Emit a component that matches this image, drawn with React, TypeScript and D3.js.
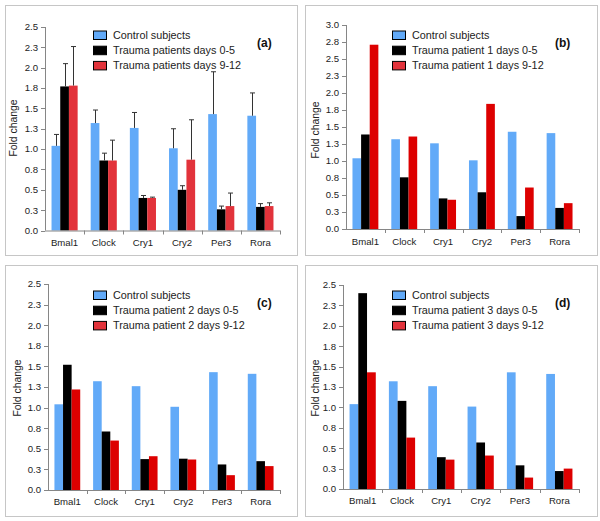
import React from "react";
import * as d3 from "d3";

const genes = ["Bmal1", "Clock", "Cry1", "Cry2", "Per3", "Rora"];

const control = [1.04, 1.32, 1.26, 1.01, 1.43, 1.41];
const controlErr = [1.18, 1.48, 1.45, 1.25, 1.95, 1.69];

const aEarly = [1.77, 0.86, 0.4, 0.5, 0.26, 0.29];
const aEarlyErr = [2.05, 0.95, 0.43, 0.55, 0.3, 0.33];
const aLate = [1.78, 0.86, 0.4, 0.87, 0.3, 0.3];
const aLateErr = [2.26, 1.11, 0.41, 1.36, 0.46, 0.34];

const p1Early = [1.39, 0.76, 0.45, 0.54, 0.19, 0.31];
const p1Late = [2.71, 1.36, 0.43, 1.84, 0.61, 0.38];

const p2Early = [1.52, 0.71, 0.375, 0.38, 0.31, 0.35];
const p2Late = [1.22, 0.6, 0.41, 0.37, 0.18, 0.29];

const p3Early = [2.4, 1.08, 0.39, 0.57, 0.29, 0.22];
const p3Late = [1.43, 0.63, 0.36, 0.41, 0.14, 0.25];

const ticks25 = ["0.0", "0.3", "0.5", "0.8", "1.0", "1.3", "1.5", "1.8", "2.0", "2.3", "2.5"];
const ticks30 = ["0.0", "0.3", "0.5", "0.8", "1.0", "1.3", "1.5", "1.8", "2.0", "2.3", "2.5", "2.8", "3.0"];

const legendA = ["Control subjects", "Trauma patients days 0-5", "Trauma patients days 9-12"];
const legendB = ["Control subjects", "Trauma patient 1 days 0-5", "Trauma patient 1 days 9-12"];
const legendC = ["Control subjects", "Trauma patient 2 days 0-5", "Trauma patient 2 days 9-12"];
const legendD = ["Control subjects", "Trauma patient 3 days 0-5", "Trauma patient 3 days 9-12"];

const BLUE = "#62aaf8";
const BLACK = "#000000";
const RED_A = "#e2333b";
const RED = "#dd0000";
const FONT = "'Liberation Sans', Arial, sans-serif";

type PanelProps = {
  box: [number, number, number, number];
  x0: number;
  x1: number;
  yTop: number;
  y0: number;
  yMax: number;
  tickLabels: string[];
  series: number[][];
  errors?: (number[] | null)[];
  colors: string[];
  legend: string[];
  legendX: number;
  legendY: number;
  tag: string;
  tagX: number;
  tagY: number;
  ylabX: number;
  ylabY: number;
  catY: number;
};

function Panel(p: PanelProps) {
  const x = d3.scaleBand<string>().domain(genes).range([p.x0, p.x1]).padding(0);
  const y = d3.scaleLinear().domain([0, p.yMax]).range([p.y0, p.yTop]);
  const cw = x.bandwidth();
  const bw = cw / (p.series.length + 1.5);
  const off = (cw - bw * p.series.length) / 2;
  const tickVals = p.tickLabels.map((_, i) => i * 0.25);
  const axisColor = "#868686";
  return (
    <g>
      <rect x={p.box[0] + 0.5} y={p.box[1] + 0.5} width={p.box[2] - p.box[0]} height={p.box[3] - p.box[1]} fill="white" stroke="#c6c6c6" strokeWidth={1} />
      {p.series.map((s, si) =>
        s.map((v, gi) => {
          const bx = (x(genes[gi]) as number) + off + si * bw;
          return <rect key={si + "-" + gi} x={bx} y={y(v)} width={bw} height={p.y0 - y(v)} fill={p.colors[si]} />;
        })
      )}
      {p.errors &&
        p.errors.map((e, si) =>
          e
            ? e.map((ev, gi) => {
                const cx = Math.round((x(genes[gi]) as number) + off + si * bw + bw / 2) + 0.5;
                return (
                  <g key={"e" + si + gi} stroke="#333" strokeWidth={1}>
                    <line x1={cx} x2={cx} y1={y(p.series[si][gi])} y2={y(ev)} />
                    <line x1={cx - 2.5} x2={cx + 2.5} y1={y(ev)} y2={y(ev)} />
                  </g>
                );
              })
            : null
        )}
      <line x1={p.x0 + 0.5} x2={p.x0 + 0.5} y1={p.yTop} y2={p.y0} stroke={axisColor} />
      <line x1={p.x0} x2={p.x1} y1={p.y0 + 0.5} y2={p.y0 + 0.5} stroke={axisColor} />
      {tickVals.map((t, i) => (
        <g key={"t" + i}>
          <line x1={p.x0 - 4} x2={p.x0} y1={Math.round(y(t)) + 0.5} y2={Math.round(y(t)) + 0.5} stroke={axisColor} />
          <text x={p.x0 - 7} y={y(t)} dy="0.35em" textAnchor="end" fontSize={9.6} fontFamily={FONT} fill="#222">
            {p.tickLabels[i]}
          </text>
        </g>
      ))}
      {genes.map((g, i) => (
        <g key={"c" + g}>
          <line x1={Math.round((x(g) as number) + cw) + 0.5} x2={Math.round((x(g) as number) + cw) + 0.5} y1={p.y0} y2={p.y0 + 4} stroke={axisColor} />
          <text x={(x(g) as number) + cw / 2} y={p.catY} textAnchor="middle" fontSize={9.6} fontFamily={FONT} fill="#222">
            {g}
          </text>
        </g>
      ))}
      <text transform={`translate(${p.ylabX},${p.ylabY}) rotate(-90)`} textAnchor="middle" dy="0.35em" fontSize={10.4} fontFamily={FONT} fill="#222">
        Fold change
      </text>
      {p.legend.map((l, i) => (
        <g key={"l" + i}>
          <rect x={p.legendX + 0.5} y={p.legendY + i * 15.2 + 0.5} width={13} height={8.5} fill={i === 2 ? RED_A : p.colors[i]} stroke="#000" strokeWidth={1} />
          <text x={p.legendX + 20} y={p.legendY + i * 15.2 + 4.5} dy="0.35em" fontSize={10.8} fontFamily={FONT} fill="#222">
            {l}
          </text>
        </g>
      ))}
      <text x={p.tagX} y={p.tagY} dy="0.35em" fontSize={12} fontWeight="bold" fontFamily={FONT} fill="#111">
        {p.tag}
      </text>
    </g>
  );
}

export default function App() {
  return (
    <svg width={600} height={521} style={{ position: "absolute", left: 0, top: 0, background: "white" }}>
      <Panel
        box={[5, 5, 297, 255]}
        x0={45}
        x1={280}
        yTop={27}
        y0={230.5}
        yMax={2.5}
        tickLabels={ticks25}
        series={[control, aEarly, aLate]}
        errors={[controlErr, aEarlyErr, aLateErr]}
        colors={[BLUE, BLACK, RED_A]}
        legend={legendA}
        legendX={93}
        legendY={30.5}
        tag="(a)"
        tagX={257}
        tagY={43}
        ylabX={13.5}
        ylabY={128}
        catY={246}
      />
      <Panel
        box={[305, 5, 597, 255]}
        x0={346}
        x1={579}
        yTop={25}
        y0={229}
        yMax={3}
        tickLabels={ticks30}
        series={[control, p1Early, p1Late]}
        colors={[BLUE, BLACK, RED]}
        legend={legendB}
        legendX={392}
        legendY={30.5}
        tag="(b)"
        tagX={555}
        tagY={43}
        ylabX={315}
        ylabY={130}
        catY={245}
      />
      <Panel
        box={[5, 265, 297, 516]}
        x0={48}
        x1={280}
        yTop={284}
        y0={490}
        yMax={2.5}
        tickLabels={ticks25}
        series={[control, p2Early, p2Late]}
        colors={[BLUE, BLACK, RED]}
        legend={legendC}
        legendX={93}
        legendY={290.5}
        tag="(c)"
        tagX={257}
        tagY={303}
        ylabX={17}
        ylabY={388}
        catY={505}
      />
      <Panel
        box={[305, 265, 597, 516]}
        x0={343}
        x1={579}
        yTop={285}
        y0={489}
        yMax={2.5}
        tickLabels={ticks25}
        series={[control, p3Early, p3Late]}
        colors={[BLUE, BLACK, RED]}
        legend={legendD}
        legendX={392}
        legendY={290.5}
        tag="(d)"
        tagX={555}
        tagY={303}
        ylabX={315}
        ylabY={388}
        catY={504}
      />
    </svg>
  );
}
